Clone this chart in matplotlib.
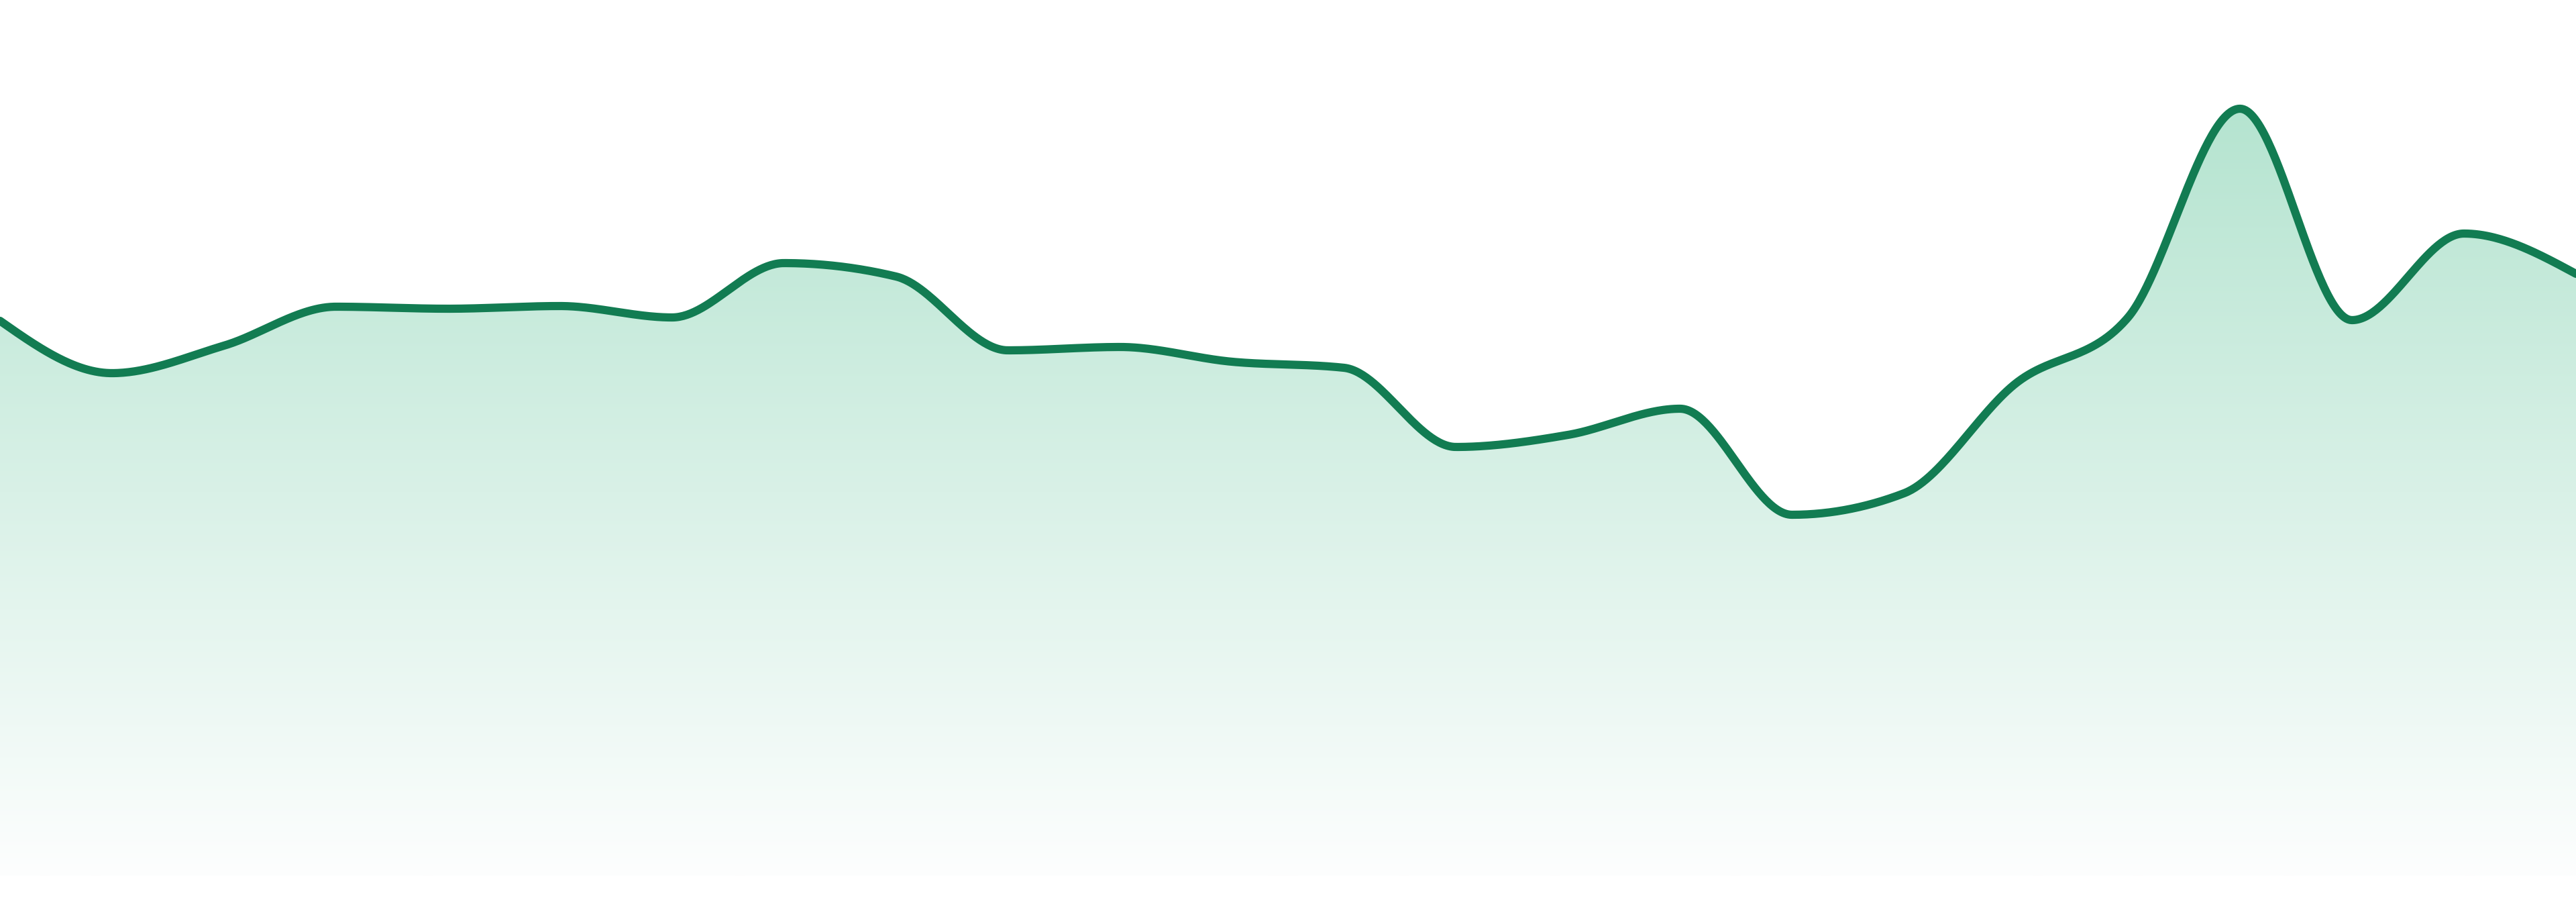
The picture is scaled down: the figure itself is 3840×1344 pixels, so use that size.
import numpy as np
import matplotlib
matplotlib.use('Agg')
import matplotlib.pyplot as plt
from matplotlib.patches import Polygon

# daily values
days = list(range(24))
values = [82.7, 74.9, 79.0, 84.8, 84.5, 84.9, 83.2, 91.3, 89.3, 78.3, 78.8, 76.6,
          75.7, 63.9, 65.7, 69.6, 53.8, 57.0, 73.4, 83.2, 114.3, 82.8, 95.7, 89.7]

LINE = '#127c52'
TOP = np.array([181, 228, 208]) / 255
BOTTOM = np.array([253, 254, 254]) / 255


def monotone_x(x, y, n=60):
    # same smoothing as d3.curveMonotoneX
    x = np.asarray(x, float)
    y = np.asarray(y, float)
    h = np.diff(x)
    s = np.diff(y) / h
    t = np.zeros_like(y)
    for i in range(1, len(y) - 1):
        p = (s[i - 1] * h[i] + s[i] * h[i - 1]) / (h[i - 1] + h[i])
        t[i] = (np.sign(s[i - 1]) + np.sign(s[i])) * min(abs(s[i - 1]), abs(s[i]), 0.5 * abs(p))
    t[0] = (3 * s[0] - t[1]) / 2
    t[-1] = (3 * s[-1] - t[-2]) / 2
    xs, ys = [], []
    for i in range(len(h)):
        u = np.linspace(0, 1, n, endpoint=(i == len(h) - 1))
        h00 = 2 * u**3 - 3 * u**2 + 1
        h10 = u**3 - 2 * u**2 + u
        h01 = -2 * u**3 + 3 * u**2
        h11 = u**3 - u**2
        xs.append(x[i] + u * h[i])
        ys.append(h00 * y[i] + h10 * h[i] * t[i] + h01 * y[i + 1] + h11 * h[i] * t[i + 1])
    return np.concatenate(xs), np.concatenate(ys)


fig = plt.figure(figsize=(38.4, 13.44), dpi=100)
ax = fig.add_axes([0, 0, 1, 1])
ax.set_xlim(days[0], days[-1])
ax.set_ylim(-3.9, 130.5)
ax.axis('off')

xs, ys = monotone_x(days, values)

# gradient fill under the curve
verts = np.column_stack([np.r_[xs, xs[-1], xs[0]], np.r_[ys, 0, 0]])
area = Polygon(verts, closed=True, facecolor='none', edgecolor='none')
ax.add_patch(area)
f = np.linspace(1, 0, 256)[:, None]
grad = (BOTTOM + (TOP - BOTTOM) * f)[:, None, :]
im = ax.imshow(grad, extent=[days[0], days[-1], 0, max(values)], aspect='auto',
               origin='upper', interpolation='bilinear', zorder=1)
im.set_clip_path(area)

ax.plot(xs, ys, color=LINE, lw=8.8, solid_capstyle='round', solid_joinstyle='round', zorder=2)

fig.savefig('out.png', dpi=100)
